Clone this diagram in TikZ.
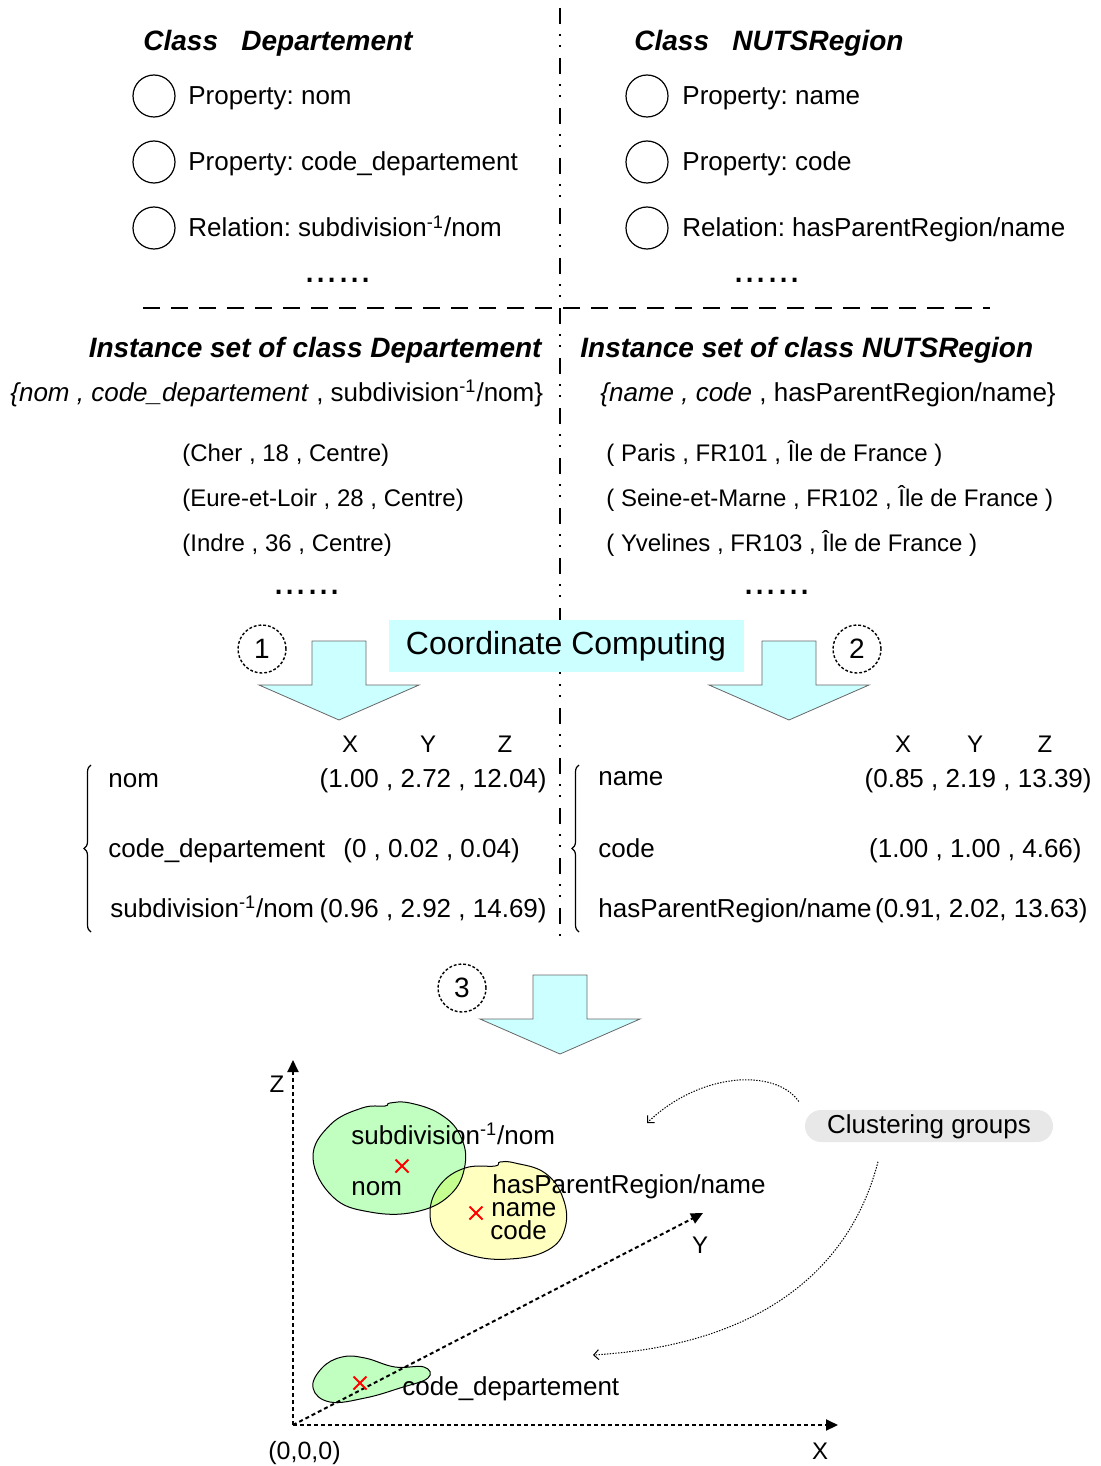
\documentclass[tikz,border=0pt]{standalone}
\usepackage{fontspec}
\setmainfont{Liberation Sans}
\usetikzlibrary{arrows.meta,decorations.pathreplacing,shapes.misc}
\definecolor{arrcyan}{HTML}{CCFFFF}
\definecolor{blobgreen}{HTML}{C0FFC0}
\definecolor{blobyellow}{HTML}{FFFFC0}
\definecolor{bloboverlap}{HTML}{C4FF90}
\definecolor{pillgray}{HTML}{E8E8E8}
\newcommand{\fsz}[1]{\fontsize{#1}{#1}\selectfont}
\frenchspacing

\begin{document}
\begin{tikzpicture}[x=0.5pt,y=-0.5pt,
 txt/.style={anchor=base west,inner sep=0pt,font=\fsz{13}},
 tup/.style={txt,font=\fsz{12}},
 ttl/.style={txt,font=\fsz{14}\bfseries\itshape},
 axl/.style={anchor=base,inner sep=0pt,font=\fsz{12}},
 dots/.style={inner sep=0pt,font=\fsz{20}},
 propc/.style={circle,draw,line width=0.6pt,minimum size=21pt,inner sep=0pt},
 numc/.style={circle,draw,line width=0.7pt,dash pattern=on 1.4pt off 1pt,minimum size=24pt,inner sep=0pt,font=\fsz{14}},
 blockarr/.style={fill=arrcyan,draw=gray!80!black,line width=0.4pt},
 brc/.style={decorate,decoration={brace,amplitude=3.5pt},line width=0.6pt},
 axis/.style={line width=1pt,dash pattern=on 2pt off 1.5pt,-{Triangle[length=6pt,width=5.5pt]}},
 blobline/.style={draw=black,line width=0.5pt},
 xmk/.style={cross out,draw=red,line width=1pt,minimum size=5.5pt,inner sep=0pt},
 curvy/.style={line width=0.5pt,dash pattern=on 0.7pt off 0.7pt,-{Straight Barb[length=2.5pt,width=5pt]}}]
\useasboundingbox (0,0) rectangle (1101,1466);
% dividers
\draw[line width=1pt,dash pattern=on 8pt off 5pt on 1pt off 4.5pt on 1pt off 5.5pt] (560,8) -- (560,942);
\draw[line width=1pt,dash pattern=on 8.5pt off 5.5pt] (143,308) -- (990,308);
% classes
\node[ttl] (clsD) at (143,51) {Class\ \ \ Departement};
\node[ttl] (clsN) at (634,51) {Class\ \ \ NUTSRegion};
\foreach \cy/\lbD/\lbN [count=\i] in {96/{Property: nom}/{Property: name},
  162/{Property: code\_departement}/{Property: code},
  228/{Relation: subdivision\textsuperscript{-1}/nom}/{Relation: hasParentRegion/name}}{
  \node[propc] (pD\i) at (154,\cy) {};
  \node[txt] (lD\i) at (188,\cy+9) {\lbD};
  \node[propc] (pN\i) at (647,\cy) {};
  \node[txt] (lN\i) at (682,\cy+9) {\lbN};}
\node[dots] (dD1) at (338,280) {......};
\node[dots] (dN1) at (767,280) {......};
% instances
\node[ttl,anchor=base east] (instD) at (542,357) {Instance set of class Departement};
\node[ttl] (instN) at (580,357) {Instance set of class NUTSRegion};
\node[txt] (setD) at (10,401) {\textit{\{nom , code\_departement} , subdivision\textsuperscript{-1}/nom\}};
\node[txt] (setN) at (600,401) {\textit{\{name , code} , hasParentRegion/name\}};
\foreach \ty/\tD/\tN [count=\i] in {461/{(Cher , 18 , Centre)}/{( Paris , FR101 , Île de France )},
  506/{(Eure-et-Loir , 28 , Centre)}/{( Seine-et-Marne , FR102 , Île de France )},
  551/{(Indre , 36 , Centre)}/{( Yvelines , FR103 , Île de France )}}{
  \node[tup] (tD\i) at (182,\ty) {\tD};
  \node[tup] (tN\i) at (606,\ty) {\tN};}
\node[dots] (dD2) at (307,592) {......};
\node[dots] (dN2) at (777,592) {......};
% computing step
\foreach \ax/\at in {339/641,789/641,560/975}
  \draw[blockarr] (\ax-27,\at) -- (\ax+27,\at) -- (\ax+27,\at+44) -- (\ax+80,\at+44)
    -- (\ax,\at+79) -- (\ax-80,\at+44) -- (\ax-27,\at+44) -- cycle;
\node[fill=arrcyan,minimum width=177.5pt,minimum height=26pt,inner sep=0pt,text height=1.08em,text depth=0.21em,font=\fsz{16}] (cc) at (566,646) {Coordinate Computing};
\foreach \nx/\ny/\nl in {262/649/1,857/649/2,462/988/3}
  \node[numc] (n\nl) at (\nx,\ny) {\nl};
% coordinate tables
\foreach \hx/\hl [count=\i] in {350/X,428/Y,505/Z,903/X,975/Y,1045/Z}
  \node[axl] (h\i) at (\hx,752) {\hl};
\node[txt] (rD1) at (108,787) {nom};
\node[txt] (rD2) at (108,857) {code\_departement};
\node[txt] (rD3) at (110,917) {subdivision\textsuperscript{-1}/nom};
\node[txt,anchor=base east] (vD1) at (547,787) {(1.00 , 2.72 , 12.04)};
\node[txt] (vD2) at (343,857) {(0 , 0.02 , 0.04)};
\node[txt,anchor=base east] (vD3) at (547,917) {(0.96 , 2.92 , 14.69)};
\node[txt] (rN1) at (598,785) {name};
\node[txt] (rN2) at (598,857) {code};
\node[txt] (rN3) at (598,917) {hasParentRegion/name};
\node[txt,anchor=base east] (vN1) at (1092,787) {(0.85 , 2.19 , 13.39)};
\node[txt,anchor=base east] (vN2) at (1082,857) {(1.00 , 1.00 , 4.66)};
\node[txt,anchor=base east] (vN3) at (1088,917) {(0.91, 2.02, 13.63)};
\draw[brc] (91,932) -- (91,765);
\draw[brc] (579,932) -- (579,765);
% clusters in the space
\coordinate (O) at (293,1425);
\coordinate (zt) at (293,1060);
\coordinate (xt) at (838,1425);
\coordinate (yt) at (703,1213);
\def\blobSub{plot[smooth cycle,tension=0.7] coordinates {(313,1158) (330,1125) (362,1108) (385,1106) (390,1103) (410,1103) (440,1114) (460,1135) (465,1165) (450,1195) (415,1212) (370,1212) (333,1197)}}
\def\blobPar{plot[smooth cycle,tension=0.7] coordinates {(430,1213) (440,1185) (465,1168) (495,1166) (500,1162) (515,1163) (545,1173) (563,1198) (565,1228) (548,1250) (510,1259) (470,1255) (440,1238)}}
\def\blobCode{plot[smooth cycle,tension=0.7] coordinates {(313,1388) (322,1368) (342,1357) (365,1358) (395,1367) (424,1367) (428,1378) (400,1388) (365,1398) (330,1402)}}
\fill[blobgreen] \blobSub;
\fill[blobyellow] \blobPar;
\begin{scope}
\clip \blobSub;
\fill[bloboverlap] \blobPar;
\end{scope}
\draw[blobline] \blobSub;
\draw[blobline] \blobPar;
\fill[blobgreen] \blobCode;
\draw[blobline] \blobCode;
\draw[axis] (O) -- (zt);
\draw[axis] (O) -- (xt);
\draw[axis] (O) -- (yt);
\node[xmk] (m1) at (402,1166) {};
\node[xmk] (m2) at (476,1213) {};
\node[xmk] (m3) at (360,1383) {};
\node[txt] (gSub) at (351,1144) {subdivision\textsuperscript{-1}/nom};
\node[txt] (gNom) at (351,1195) {nom};
\node[txt] (gPar) at (492,1193) {hasParentRegion/name};
\node[txt] (gName) at (491,1216) {name};
\node[txt] (gCode) at (490,1239) {code};
\node[txt] (gDep) at (402,1395) {code\_departement};
\node[axl] (lz) at (277,1092) {Z};
\node[axl] (lx) at (820,1459) {X};
\node[axl] (ly) at (700,1253) {Y};
\node[txt,font=\fsz{12.5}] (lo) at (268,1459) {(0,0,0)};
\node[fill=pillgray,rounded corners=8pt,minimum width=124pt,minimum height=16pt,inner sep=0pt,text height=0.97em,text depth=0.21em,font=\fsz{13}] (cg) at (929,1126) {Clustering groups};
\coordinate (t1) at (647,1123);
\coordinate (t2) at (593,1355);
\draw[curvy,shorten <=5pt] (cg.north west) .. controls (775,1068) and (700,1072) .. (t1);
\draw[curvy,shorten <=10pt] ([xshift=-23pt]cg.south) .. controls (850,1270) and (760,1345) .. (t2);
\end{tikzpicture}
\end{document}
